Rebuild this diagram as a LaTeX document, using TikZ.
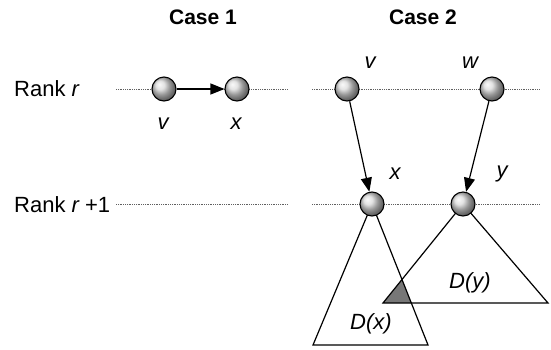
\documentclass[tikz,border=0pt]{standalone}
\usepackage{fontspec}
\setmainfont{Liberation Sans}
\usepackage{tikz}
\usetikzlibrary{positioning,arrows.meta,calc,backgrounds}
\definecolor{overlap}{HTML}{777777}
\definecolor{rankgray}{HTML}{606060}

\begin{document}
\begin{tikzpicture}[x=1pt,y=-1pt,
    ball/.style={circle, draw=black, line width=1.1pt, shading=ball,
      ball color=gray!30, minimum size=24pt, inner sep=0pt},
    rankline/.style={rankgray, line width=1pt, dash pattern=on 1pt off 0.8pt},
    link/.style={-{Triangle[length=14pt,width=11pt]}, line width=1.2pt},
    tree/.style={line width=1.2pt},
    txt/.style={font=\fontsize{22}{26}\selectfont, inner sep=0pt},
    lbl/.style={font=\fontsize{22}{26}\selectfont\itshape}]
  \useasboundingbox (0,0) rectangle (551,349);

  % Titles
  \node[font=\fontsize{21}{25}\selectfont\bfseries] (case1) at (203,17) {Case 1};
  \node[font=\fontsize{21}{25}\selectfont\bfseries] (case2) at (423,17) {Case 2};

  % Ranks
  \node[txt, anchor=west] (rankr) at (14,89) {Rank {\itshape r}};
  \node[txt, anchor=west] (rankr1) at (14,205) {Rank {\itshape r} +1};

  % Case 1
  \node[ball] (v1) at (164,89) {};
  \node[ball] (x1) at (237,89) {};
  \node[lbl] (v1l) at (163,124) {v};
  \node[lbl] (x1l) at (236,124) {x};

  % Case 2
  \node[ball] (v2) at (347,89) {};
  \node[ball] (w) at (492,89) {};
  \node[ball] (x2) at (372,204) {};
  \node[ball] (y2) at (463,204) {};
  \node[lbl] (v2l) at (370,63) {v};
  \node[lbl] (wl) at (470,63) {w};
  \node[lbl] (x2l) at (395,174) {x};
  \node[lbl] (y2l) at (502,174) {y};

  % Subtrees
  \coordinate (dxl) at (313,345);
  \coordinate (dxr) at (428,345);
  \coordinate (dyl) at (383,303);
  \coordinate (dyr) at (548,303);
  \node[lbl] (dx) at (371,324) {D(x)};
  \node[lbl] (dy) at (470,283) {D(y)};

  \begin{scope}[on background layer]
    % dotted rank lines
    \coordinate (a1) at (116,89);  \coordinate (a2) at (288,89);
    \coordinate (b1) at (116,204); \coordinate (b2) at (288,204);
    \coordinate (c1) at (312,89);  \coordinate (c2) at (540,89);
    \coordinate (d1) at (312,204); \coordinate (d2) at (540,204);
    \draw[rankline] (a1) -- (a2);
    \draw[rankline] (b1) -- (b2);
    \draw[rankline] (c1) -- (c2);
    \draw[rankline] (d1) -- (d2);

    % overlap of D(x) and D(y)
    \begin{scope}
      \clip (x2.center) -- (dxl) -- (dxr) -- cycle;
      \fill[overlap] (y2.center) -- (dyl) -- (dyr) -- cycle;
    \end{scope}
    \draw[tree] (x2.center) -- (dxl) -- (dxr) -- cycle;
    \draw[tree] (y2.center) -- (dyl) -- (dyr) -- cycle;
  \end{scope}

  % Edges
  \draw[link] (v1) -- (x1);
  \draw[link] (v2) -- (x2);
  \draw[link] (w) -- (y2);
\end{tikzpicture}
\end{document}
